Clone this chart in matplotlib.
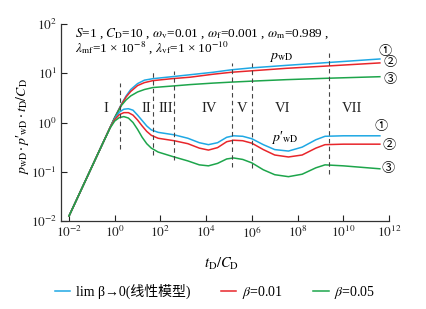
import numpy as np
import matplotlib
matplotlib.use("Agg")
import matplotlib.pyplot as plt

plt.rcParams['font.family'] = ['Liberation Serif', 'Noto Sans CJK SC']
plt.rcParams['mathtext.fontset'] = 'stix'

# couleurs des trois cas
c_lin = '#1fa8e4'
c_b01 = '#e8262b'
c_b05 = '#1da54b'

# pwD (log10 tD/CD, log10 pwD)
lt_p = [-2, -1, -0.5, 0, 0.3, 0.5, 0.7, 1.0, 1.3, 1.67, 2.5, 3.3, 4.3, 5.1, 6.0, 7.5, 9.4, 11.6]
p_lin = [-1.9, -0.9, -0.4, 0.1, 0.38, 0.54, 0.67, 0.79, 0.86, 0.89, 0.93, 0.97, 1.02, 1.07, 1.11, 1.16, 1.22, 1.29]
p_b01 = [-1.9, -0.9, -0.4, 0.1, 0.37, 0.52, 0.63, 0.75, 0.81, 0.85, 0.89, 0.92, 0.98, 1.02, 1.05, 1.10, 1.15, 1.21]
p_b05 = [-1.9, -0.9, -0.4, 0.1, 0.35, 0.46, 0.54, 0.62, 0.67, 0.71, 0.74, 0.77, 0.80, 0.82, 0.84, 0.87, 0.90, 0.93]

# dérivée p'wD*tD/CD
lt_d = [-2, -1, -0.5, -0.2, 0, 0.2, 0.4, 0.6, 0.8, 1.0, 1.2, 1.4, 1.6, 1.9, 2.6, 3.2, 3.7, 4.1,
        4.5, 4.9, 5.2, 5.6, 6.0, 6.5, 7.0, 7.6, 8.2, 8.8, 9.2, 10, 11.6]
d_lin = [-1.9, -0.9, -0.4, -0.1, 0.08, 0.21, 0.27, 0.28, 0.25, 0.15, 0.04, -0.07, -0.15, -0.2, -0.25,
         -0.32, -0.41, -0.45, -0.41, -0.3, -0.27, -0.28, -0.33, -0.45, -0.55, -0.58, -0.5, -0.35,
         -0.28, -0.27, -0.27]
d_b01 = [-1.9, -0.9, -0.4, -0.1, 0.06, 0.16, 0.2, 0.2, 0.15, 0.05, -0.07, -0.18, -0.26, -0.32, -0.37,
         -0.43, -0.52, -0.56, -0.51, -0.39, -0.36, -0.37, -0.42, -0.55, -0.66, -0.70, -0.66, -0.52,
         -0.45, -0.44, -0.44]
d_b05 = [-1.9, -0.9, -0.4, -0.11, 0.03, 0.1, 0.12, 0.09, 0.0, -0.14, -0.3, -0.43, -0.52, -0.6, -0.7,
         -0.78, -0.86, -0.88, -0.83, -0.74, -0.72, -0.75, -0.82, -0.96, -1.06, -1.10, -1.05, -0.92,
         -0.86, -0.88, -0.94]

# lignes de séparation des régimes d'écoulement
lt_sep = [0.23, 1.67, 2.59, 5.13, 6.0, 9.37]
sep_bas = [-0.54, -0.66, -0.76, -0.90, -0.92, -1.05]
sep_haut = [0.80, 1.07, 1.05, 1.21, 1.21, 1.41]

regimes = ['I', 'II', 'III', 'IV', 'V', 'VI', 'VII']
lt_regimes = [-0.38, 1.37, 2.24, 4.12, 5.57, 7.36, 10.4]

fig = plt.figure(figsize=(4.26, 3.09), dpi=100)
ax = fig.add_axes([0.1432, 0.2848, 0.77, 0.6375])

t_p = 10 ** np.array(lt_p)
t_d = 10 ** np.array(lt_d)
lw = 1.1
ax.plot(t_p, 10 ** np.array(p_lin), color=c_lin, lw=lw, label='lim β→0(线性模型)')
ax.plot(t_p, 10 ** np.array(p_b01), color=c_b01, lw=lw, label=r'$\beta$=0.01')
ax.plot(t_p, 10 ** np.array(p_b05), color=c_b05, lw=lw, label=r'$\beta$=0.05')
ax.plot(t_d, 10 ** np.array(d_lin), color=c_lin, lw=lw)
ax.plot(t_d, 10 ** np.array(d_b01), color=c_b01, lw=lw)
ax.plot(t_d, 10 ** np.array(d_b05), color=c_b05, lw=lw)

ax.vlines(10 ** np.array(lt_sep), 10 ** np.array(sep_bas), 10 ** np.array(sep_haut),
          colors='#444444', linestyles=(0, (4, 3)), lw=0.8)

for nom, lt in zip(regimes, lt_regimes):
    ax.text(10 ** lt, 10 ** 0.29, nom, ha='center', va='center', fontsize=10.5, color='#222222')

ax.set_xscale('log')
ax.set_yscale('log')
ax.set_xlim(10 ** -2.35, 1e12)
ax.set_ylim(1e-2, 1e2)
ax.set_xticks([10.0 ** k for k in range(-2, 13, 2)])
ax.set_xticklabels([r'$10^{%d}$' % k for k in range(-2, 13, 2)])
ax.set_yticks([10.0 ** k for k in range(-2, 3)])
ax.set_yticklabels([r'$10^{%d}$' % k for k in range(-2, 3)])
ax.minorticks_off()
ax.tick_params(direction='in', length=4, width=0.8, labelsize=9.5, pad=3, colors='#222222')
for s in ['top', 'right']:
    ax.spines[s].set_visible(False)
for s in ['left', 'bottom']:
    ax.spines[s].set_color('#333333')
    ax.spines[s].set_linewidth(0.9)

ax.set_xlabel(r'$t_{\rm D}/C_{\rm D}$', fontsize=10.5)
ax.xaxis.set_label_coords(0.49, -0.175)
ax.set_ylabel(r"$p_{\rm wD}\cdot p$′$_{\rm wD}\cdot t_{\rm D}/C_{\rm D}$", fontsize=10)
ax.yaxis.set_label_coords(-0.09, 0.48)

ax.text(0.043, 0.952, r'$S$=1 , $C_{\rm D}$=10 , $\omega_{\rm v}$=0.01 , $\omega_{\rm f}$=0.001 , $\omega_{\rm m}$=0.989 ,',
        transform=ax.transAxes, fontsize=9.5, va='center')
ax.text(0.043, 0.878, r'$\lambda_{\rm mf}$=1 × 10$^{-8}$ , $\lambda_{\rm vf}$=1 × 10$^{-10}$',
        transform=ax.transAxes, fontsize=9.5, va='center')

ax.text(10 ** 7.27, 10 ** 1.31, r'$p_{\rm wD}$', fontsize=10, ha='center', va='center')
ax.text(10 ** 7.45, 10 ** -0.31, r"$p$′$_{\rm wD}$", fontsize=10, ha='center', va='center')

cercles = ['①', '②', '③', '①', '②', '③']
pos_cercles = [(11.82, 1.45), (12.04, 1.21), (12.04, 0.88), (11.65, -0.09), (12.0, -0.46), (11.95, -0.94)]
for c, (lx, ly) in zip(cercles, pos_cercles):
    ax.text(10 ** lx, 10 ** ly, c, fontsize=9.5, ha='center', va='center',
            family=['Noto Sans CJK SC', 'DejaVu Sans'], clip_on=False)

fig.legend(loc='center', bbox_to_anchor=(0.505, 0.055), ncol=3, frameon=False, fontsize=10,
           handlelength=1.1, handletextpad=0.4, columnspacing=2.2)

fig.savefig('out.png', dpi=100)
